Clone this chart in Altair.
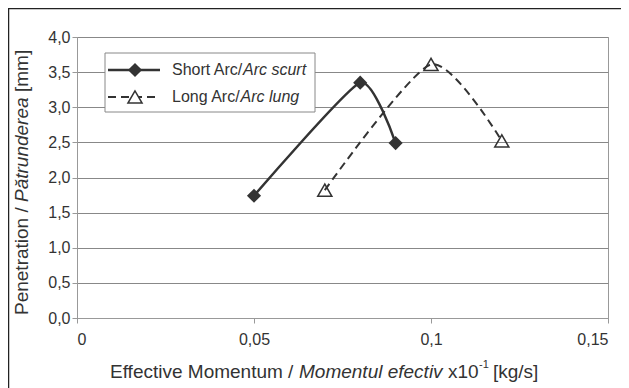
import altair as alt
import pandas as pd

# ---- data ----
short_x = [0.05, 0.08, 0.09]
short_y = [1.74, 3.35, 2.49]
long_x = [0.07, 0.10, 0.12]
long_y = [1.82, 3.61, 2.52]

x_ticks = [0, 0.05, 0.1, 0.15]
y_ticks = [0, 0.5, 1.0, 1.5, 2.0, 2.5, 3.0, 3.5, 4.0]

W, H = 531, 281
FONT = "Liberation Sans"
INK = "#333333"
CURVE = "cardinal"

short_df = pd.DataFrame({"x": short_x, "y": short_y})
long_df = pd.DataFrame({"x": long_x, "y": long_y})
one = pd.DataFrame({"d": [0]})

xs = alt.Scale(domain=[0, 0.15], nice=False)
ys = alt.Scale(domain=[0, 4], nice=False)

x_axis = alt.Axis(values=x_ticks, title=None, grid=False,
                  labelExpr="replace(toString(datum.value), '.', ',')",
                  labelFont=FONT, labelFontSize=16, labelColor=INK, labelOverlap=False,
                  domainColor="#999999", tickColor="#999999", tickSize=5,
                  labelPadding=8)
y_axis = alt.Axis(values=y_ticks, title=None, grid=True, gridColor="#888888",
                  labelExpr="replace(format(datum.value, '.1f'), '.', ',')",
                  labelFont=FONT, labelFontSize=16, labelColor=INK, labelOverlap=False,
                  domainColor="#999999", tickColor="#999999", tickSize=5,
                  labelPadding=2)


def X():
    return alt.X("x:Q", scale=xs, axis=x_axis)


def Y():
    return alt.Y("y:Q", scale=ys, axis=y_axis)


short_line = alt.Chart(short_df).mark_line(
    interpolate=CURVE, tension=0.45, color=INK, strokeWidth=2.5
).encode(x=X(), y=Y())

short_pts = alt.Chart(short_df).mark_point(
    shape="diamond", filled=True, color=INK, size=200, opacity=1
).encode(x=X(), y=Y())

long_line = alt.Chart(long_df).mark_line(
    interpolate=CURVE, tension=0.3, color=INK, strokeWidth=2, strokeDash=[8, 5]
).encode(x=X(), y=Y())

long_pts = alt.Chart(long_df).mark_point(
    shape="triangle-up", filled=False, color=INK, size=200, strokeWidth=1.5, opacity=1
).encode(x=X(), y=Y())

# ---- legend (manual, to allow mixed italic text) ----
leg_box = alt.Chart(one).mark_rect(fill="white", stroke="#888888", strokeWidth=1).encode(
    x=alt.value(28), x2=alt.value(238), y=alt.value(16), y2=alt.value(75))
leg_l1 = alt.Chart(one).mark_rule(color=INK, strokeWidth=2.5).encode(
    x=alt.value(31), x2=alt.value(83), y=alt.value(33))
leg_l2 = alt.Chart(one).mark_rule(color=INK, strokeWidth=2, strokeDash=[8, 5]).encode(
    x=alt.value(31), x2=alt.value(83), y=alt.value(60))
leg_p1 = alt.Chart(one).mark_point(shape="diamond", filled=True, color=INK, size=200, opacity=1).encode(
    x=alt.value(58), y=alt.value(33))
leg_p2 = alt.Chart(one).mark_point(shape="triangle-up", filled=True, fill="white", stroke=INK,
                                   size=200, strokeWidth=1.5, opacity=1).encode(
    x=alt.value(58), y=alt.value(60))


def txt(s, x, y, size=16, style="normal", angle=0):
    kw = dict(text=s, font=FONT, fontSize=size, color=INK, align="left",
              baseline="middle", fontStyle=style)
    if angle:
        kw["angle"] = angle
    return alt.Chart(one).mark_text(**kw).encode(x=alt.value(x), y=alt.value(y))


leg_t = [
    txt("Short Arc/", 95, 33),
    txt("Arc scurt", 166, 33, style="italic"),
    txt("Long Arc/", 95, 60),
    txt("Arc lung", 163.5, 60, style="italic"),
]

# ---- axis titles (mixed style) ----
xt_y = 335
x_title = [
    txt("Effective Momentum /", 33, xt_y, size=19),
    txt("Momentul efectiv", 222, xt_y, size=19, style="italic"),
    txt("x10", 371, xt_y, size=19),
    txt("-1", 402, xt_y - 7, size=11),
    txt("[kg/s]", 416, xt_y, size=19),
]
yt_x = -55
y_title = [
    txt("Penetration /", yt_x, 278, size=19, angle=270),
    txt("Pătrunderea", yt_x, 165, size=19, style="italic", angle=270),
    txt("[mm]", yt_x, 55, size=19, angle=270),
]

# ---- outer frame (left and top edges visible) ----
frame_l = alt.Chart(one).mark_rule(color="#222222", strokeWidth=2.5).encode(
    x=alt.value(-69), y=alt.value(-29), y2=alt.value(H + 80))
frame_t = alt.Chart(one).mark_rule(color="#222222", strokeWidth=2.5).encode(
    x=alt.value(-69), x2=alt.value(W + 30), y=alt.value(-29))

chart = alt.layer(
    short_line, long_line, short_pts, long_pts,
    leg_box, leg_l1, leg_l2, leg_p1, leg_p2, *leg_t,
    *x_title, *y_title, frame_l, frame_t
).properties(
    width=W, height=H,
    autosize=alt.AutoSizeParams(type="none"),
    padding={"left": 69, "top": 29, "right": 13, "bottom": 70},
).configure_view(stroke="#999999", strokeWidth=1)

chart.save("out.html", embed_options={"renderer": "svg", "actions": False})
